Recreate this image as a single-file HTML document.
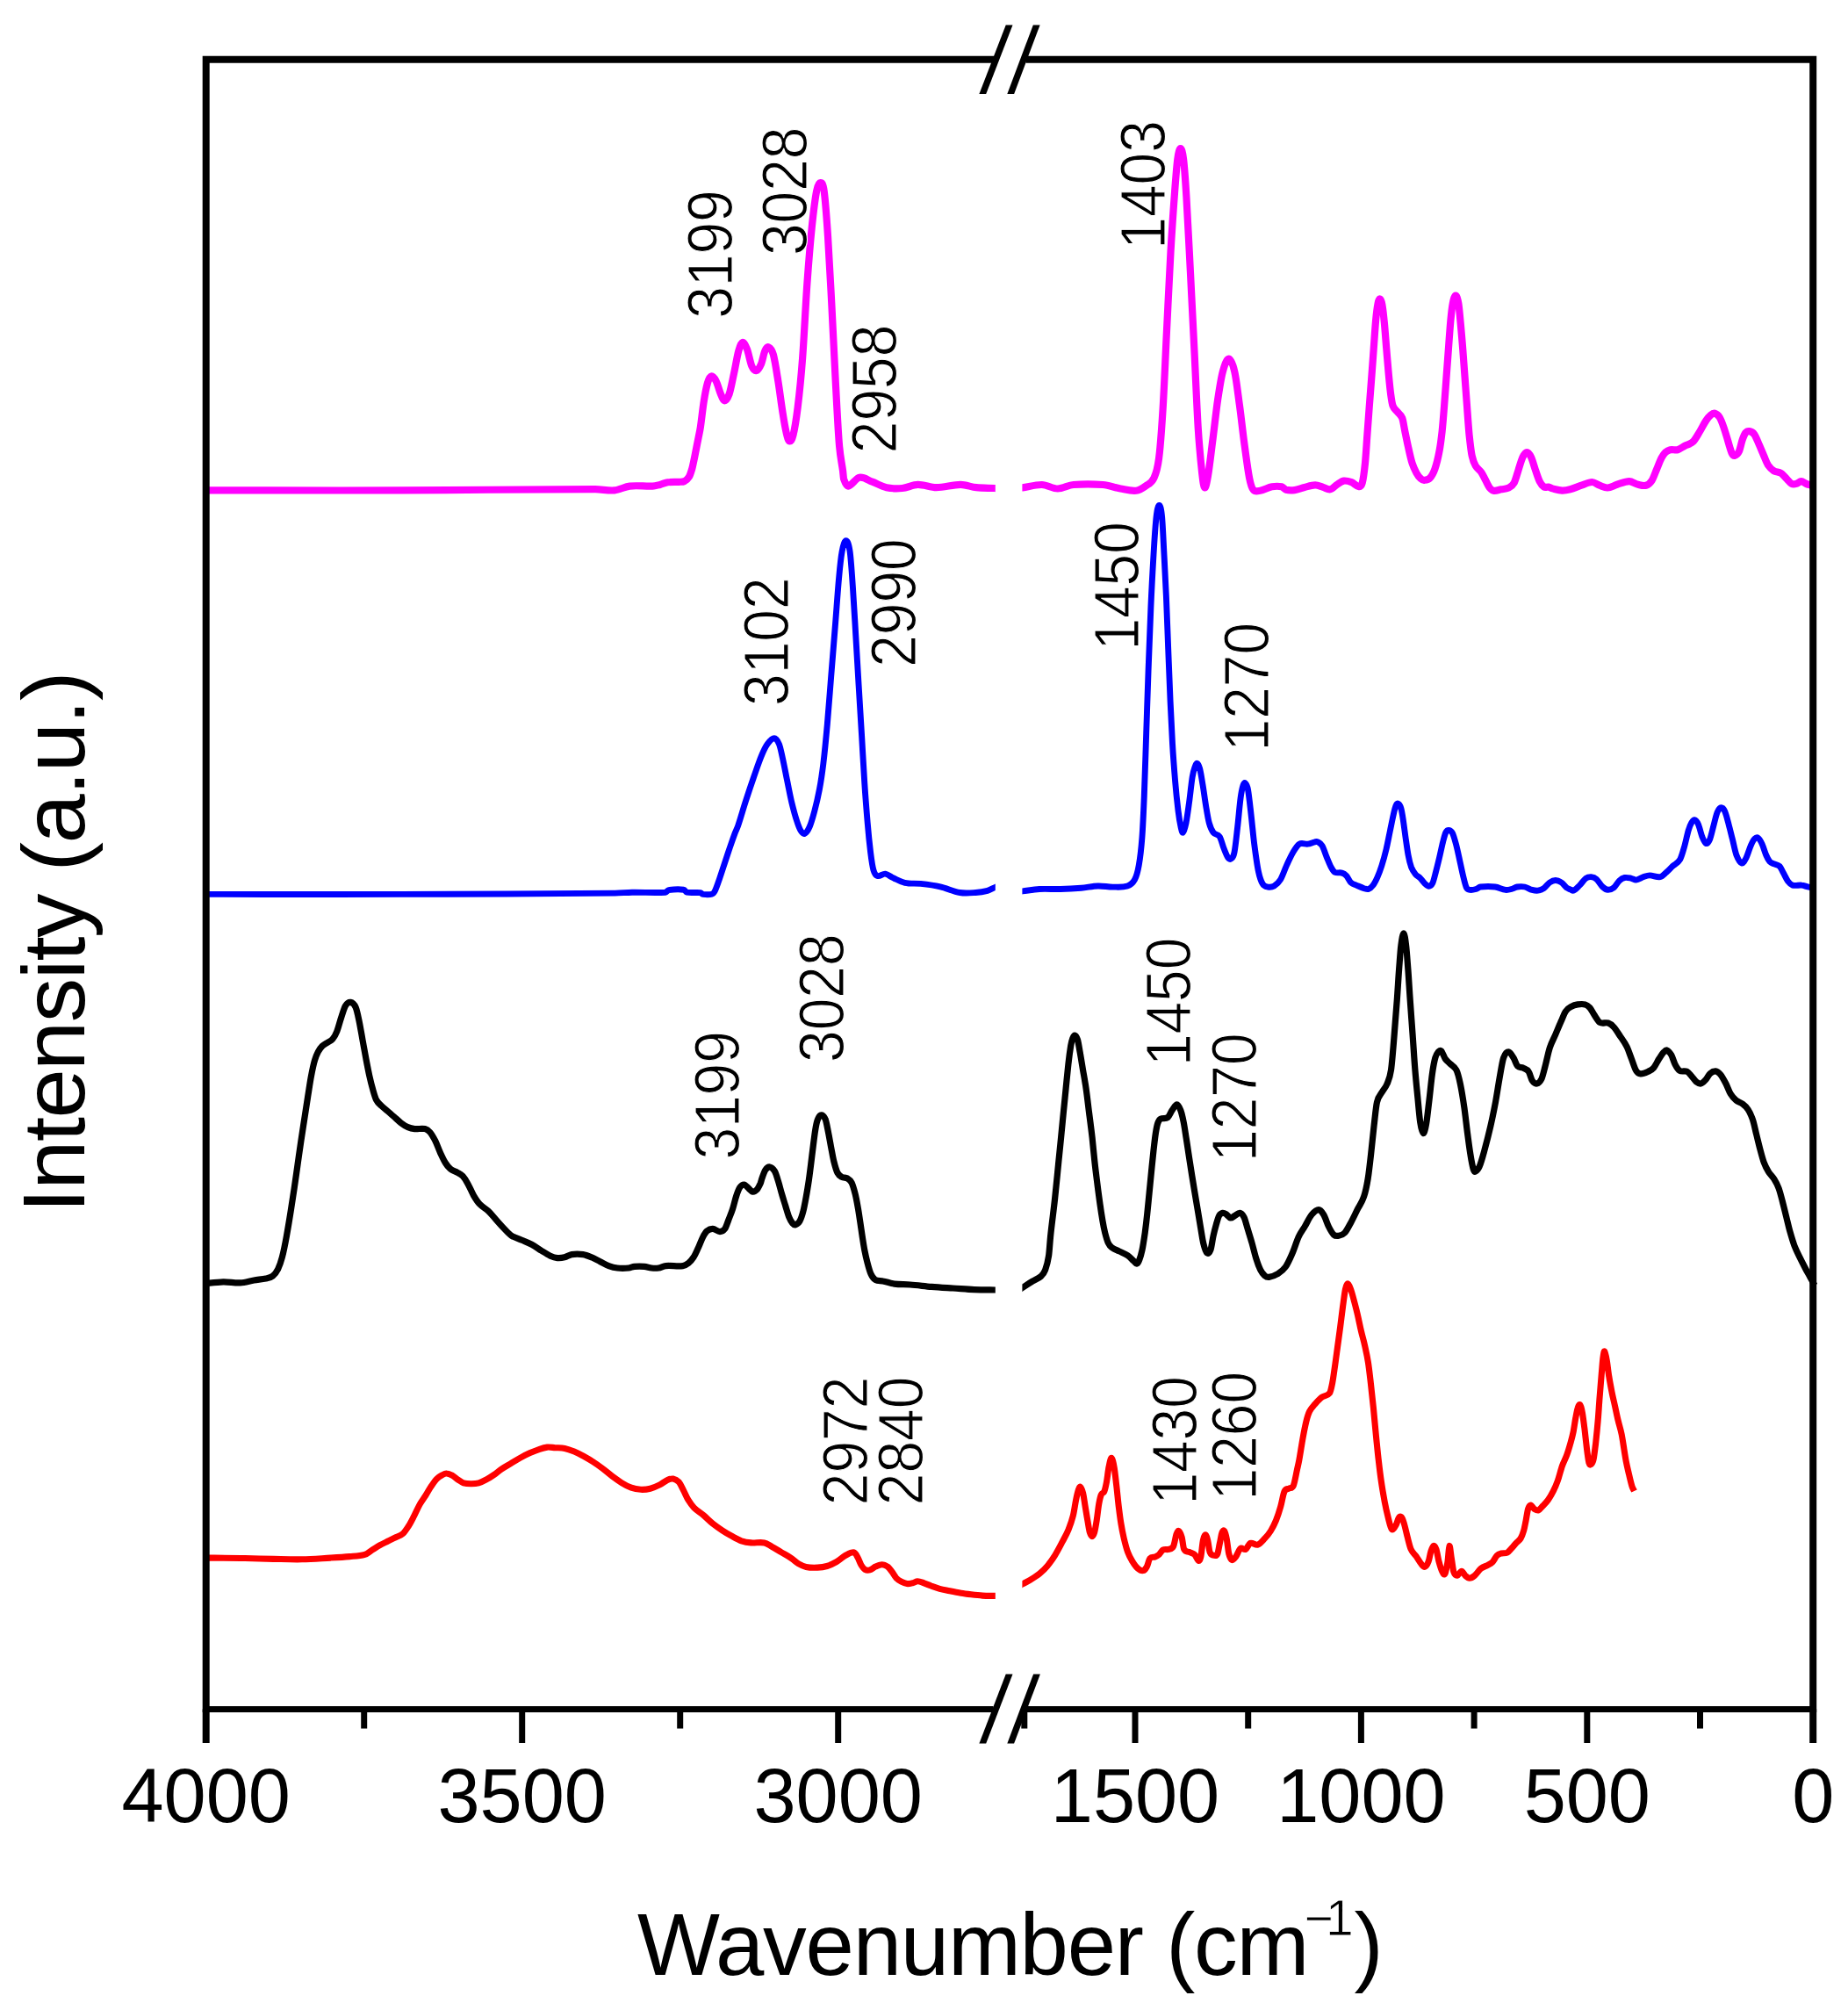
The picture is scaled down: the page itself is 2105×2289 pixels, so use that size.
<!DOCTYPE html>
<html><head><meta charset="utf-8"><title>Spectra</title>
<style>
html,body{margin:0;padding:0;background:#fff;}
svg{display:block;}
text{font-family:"Liberation Sans",sans-serif;fill:#000;}
</style></head>
<body>
<svg width="2105" height="2289" viewBox="0 0 2105 2289">
<rect width="2105" height="2289" fill="#fff"/>
<defs><clipPath id="cL"><rect x="228" y="0" width="905.8" height="2289"/></clipPath><clipPath id="cR"><rect x="1164.4" y="0" width="910" height="2289"/></clipPath></defs>
<g id="curves">
<path d="M232.0,558.4C307.1,558.4 382.2,558.6 457.3,558.4C530.9,558.2 604.5,557.1 678.1,557.1C685.4,557.1 692.7,559.1 700.0,558.4C705.8,557.9 711.5,554.2 717.3,553.6C726.0,552.6 734.6,554.0 743.3,553.6C746.2,553.5 749.0,552.6 751.9,551.9C754.8,551.2 757.7,549.7 760.6,549.3C764.9,548.7 769.3,549.1 773.6,548.8C775.6,548.7 777.7,549.0 779.7,548.0C781.4,547.1 783.1,546.0 784.8,543.2C786.0,541.3 787.1,537.7 788.3,533.7C789.1,531.1 789.8,527.0 790.6,523.3C791.5,519.2 792.3,514.6 793.2,510.3C794.1,506.0 794.9,501.7 795.8,497.3C796.5,493.9 797.1,491.4 797.8,486.9C799.1,478.1 800.4,465.5 801.7,457.4C803.1,448.5 804.6,440.8 806.0,436.0C807.4,431.2 808.9,428.8 810.3,428.5C812.1,428.1 813.8,430.5 815.6,433.9C817.4,437.3 819.2,444.7 821.0,448.9C822.4,452.2 823.9,456.3 825.3,456.3C827.1,456.3 828.8,454.0 830.6,448.9C832.4,443.7 834.2,433.6 836.0,425.3C837.8,417.2 839.5,406.1 841.3,399.6C842.7,394.3 844.2,390.3 845.6,390.0C847.4,389.6 849.1,393.1 850.9,397.5C852.7,402.0 854.5,412.7 856.3,416.8C858.1,420.9 859.8,422.5 861.6,422.1C863.4,421.7 865.2,418.8 867.0,414.6C868.4,411.3 869.9,402.8 871.3,399.6C872.7,396.4 874.2,394.8 875.6,395.4C877.4,396.2 879.1,397.5 880.9,403.9C882.7,410.4 884.5,422.7 886.3,433.9C888.1,444.9 889.8,459.3 891.6,470.3C893.0,479.2 894.5,487.7 895.9,493.8C897.0,498.4 898.0,502.1 899.1,502.4C900.5,502.8 902.0,501.7 903.4,495.9C905.2,488.8 906.9,478.3 908.7,463.8C910.5,449.0 912.3,432.0 914.1,408.2C915.9,384.9 917.6,347.3 919.4,322.6C921.2,297.4 923.0,276.0 924.8,258.4C926.6,241.1 928.3,227.0 930.1,217.7C931.5,210.2 933.0,208.1 934.4,208.1C935.8,208.1 937.3,207.5 938.7,217.7C940.1,227.9 941.6,247.8 943.0,269.1C944.4,289.9 945.8,317.6 947.2,344.0C948.6,371.1 950.1,402.9 951.5,429.6C952.9,456.4 954.4,486.7 955.8,504.5C957.2,522.3 958.7,525.5 960.1,536.6C960.4,539.2 960.8,544.5 961.1,545.5C962.7,550.2 964.4,553.8 966.0,553.6C970.3,553.2 974.7,544.6 979.0,543.8C983.9,542.9 988.7,546.9 993.6,548.7C999.0,550.7 1004.4,554.0 1009.8,555.2C1015.8,556.5 1021.7,556.6 1027.7,556.0C1033.6,555.5 1039.6,552.0 1045.5,551.9C1052.5,551.8 1059.6,555.2 1066.6,555.2C1075.8,555.2 1085.0,551.9 1094.2,551.9C1100.2,551.9 1106.1,554.6 1112.1,555.2C1119.1,555.9 1126.2,555.7 1133.2,556.0C1135.9,556.1 1138.5,556.2 1141.2,556.3" fill="none" stroke="#ff00ff" stroke-width="8.2" stroke-linejoin="round" stroke-linecap="butt" clip-path="url(#cL)"/>
<path d="M1156.5,556.6C1159.2,556.2 1161.8,555.8 1164.5,555.4C1172.0,554.3 1179.4,551.8 1186.9,552.0C1192.9,552.2 1198.8,556.5 1204.8,556.5C1210.8,556.5 1216.7,552.5 1222.7,552.0C1233.9,551.0 1245.1,551.1 1256.3,552.0C1263.0,552.6 1269.7,555.3 1276.4,556.5C1282.4,557.6 1288.3,559.4 1294.3,558.7C1298.0,558.3 1301.8,555.8 1305.5,553.1C1308.5,550.9 1311.5,550.6 1314.5,544.2C1316.4,540.2 1318.2,536.3 1320.1,521.8C1321.6,510.2 1323.1,490.3 1324.6,465.8C1326.1,441.8 1327.5,405.8 1329.0,376.3C1330.5,346.1 1332.0,312.8 1333.5,286.7C1335.0,260.6 1336.5,239.8 1338.0,219.6C1339.1,204.8 1340.2,189.8 1341.3,181.5C1342.4,173.0 1343.6,169.2 1344.7,169.2C1345.8,169.2 1347.0,172.2 1348.1,181.5C1349.2,190.5 1350.3,206.0 1351.4,224.0C1352.9,248.5 1354.4,280.0 1355.9,309.1C1357.4,338.2 1358.9,368.5 1360.4,398.7C1361.9,428.2 1363.3,465.0 1364.8,488.2C1366.3,512.0 1367.8,526.1 1369.3,539.7C1370.3,548.5 1371.2,555.1 1372.2,555.4C1373.5,555.8 1374.7,549.4 1376.0,541.9C1377.9,530.8 1379.7,513.9 1381.6,499.4C1383.5,484.8 1385.3,467.3 1387.2,454.6C1389.1,441.9 1390.9,430.2 1392.8,423.3C1395.1,414.9 1397.3,408.7 1399.6,408.7C1401.8,408.7 1404.1,413.7 1406.3,423.3C1408.2,431.3 1410.0,447.5 1411.9,461.3C1413.8,475.1 1415.6,492.3 1417.5,506.1C1419.4,519.9 1421.2,534.6 1423.1,544.2C1424.6,551.8 1426.0,555.9 1427.5,557.6C1430.1,560.7 1432.8,559.1 1435.4,558.7C1439.9,558.0 1444.3,555.1 1448.8,554.3C1452.5,553.6 1456.3,553.5 1460.0,554.3C1461.6,554.7 1463.3,557.4 1464.9,557.8C1468.1,558.6 1471.4,558.5 1474.6,558.1C1478.4,557.6 1482.2,555.8 1486.0,554.9C1490.0,553.9 1494.1,552.4 1498.1,552.4C1501.1,552.4 1504.1,554.0 1507.1,554.9C1509.8,555.7 1512.5,557.8 1515.2,557.3C1517.9,556.8 1520.6,553.3 1523.3,551.6C1525.7,550.1 1528.2,548.0 1530.6,547.6C1533.6,547.2 1536.5,548.1 1539.5,549.2C1542.2,550.2 1545.0,553.9 1547.7,554.1C1549.0,554.2 1550.4,554.9 1551.7,550.0C1552.8,546.0 1553.9,538.0 1555.0,527.3C1555.8,519.6 1556.6,505.6 1557.4,494.8C1558.2,484.0 1559.0,472.9 1559.8,462.3C1560.6,451.3 1561.5,440.9 1562.3,429.9C1563.1,419.3 1563.9,408.2 1564.7,397.4C1565.5,386.6 1566.3,373.4 1567.1,364.9C1567.9,356.1 1568.8,349.6 1569.6,345.5C1570.4,341.5 1571.2,340.3 1572.0,340.6C1572.8,340.9 1573.6,342.6 1574.4,347.1C1575.2,351.8 1576.1,359.6 1576.9,368.2C1577.7,376.4 1578.5,387.9 1579.3,397.4C1580.1,407.3 1581.0,417.8 1581.8,426.6C1582.6,435.1 1583.4,443.4 1584.2,449.4C1585.0,455.3 1585.8,460.2 1586.6,462.3C1588.2,466.6 1589.9,466.7 1591.5,468.8C1593.4,471.3 1595.3,471.2 1597.2,476.1C1598.3,478.8 1599.3,486.5 1600.4,491.6C1601.8,498.1 1603.1,505.0 1604.5,511.0C1605.8,516.9 1607.2,523.2 1608.5,527.3C1610.1,532.4 1611.8,535.6 1613.4,538.6C1615.0,541.6 1616.7,543.6 1618.3,545.1C1619.6,546.3 1621.0,546.9 1622.3,546.8C1624.5,546.6 1626.6,546.6 1628.8,544.3C1630.7,542.3 1632.6,539.2 1634.5,533.8C1636.1,529.2 1637.8,522.8 1639.4,514.3C1640.5,508.7 1641.5,501.3 1642.6,491.6C1643.4,484.0 1644.3,472.8 1645.1,462.3C1645.9,452.2 1646.7,440.7 1647.5,429.9C1648.3,419.1 1649.1,408.0 1649.9,397.4C1650.7,386.3 1651.6,373.7 1652.4,364.9C1653.2,356.4 1654.0,349.5 1654.8,345.5C1655.9,340.0 1657.0,336.5 1658.1,336.5C1659.2,336.5 1660.2,339.5 1661.3,345.5C1662.1,350.0 1662.9,359.7 1663.7,368.2C1664.5,377.0 1665.4,386.9 1666.2,397.4C1667.0,407.5 1667.8,419.1 1668.6,429.9C1669.4,440.7 1670.2,451.7 1671.0,462.3C1671.8,473.3 1672.7,486.5 1673.5,494.8C1674.6,505.4 1675.6,514.0 1676.7,519.2C1678.1,525.9 1679.4,528.1 1680.8,530.5C1683.0,534.3 1685.1,534.7 1687.3,537.8C1688.9,540.1 1690.5,543.8 1692.1,546.8C1693.7,549.8 1695.4,553.7 1697.0,555.7C1698.6,557.7 1700.3,558.7 1701.9,558.9C1704.6,559.2 1707.3,557.8 1710.0,557.3C1712.7,556.8 1715.4,557.1 1718.1,555.7C1720.3,554.6 1722.4,553.9 1724.6,550.0C1726.2,547.1 1727.9,540.3 1729.5,535.4C1731.1,530.5 1732.8,524.2 1734.4,520.8C1736.0,517.5 1737.6,515.1 1739.2,515.1C1740.8,515.1 1742.5,517.4 1744.1,520.8C1745.7,524.2 1747.4,530.8 1749.0,535.4C1750.6,540.0 1752.2,545.2 1753.8,548.4C1755.4,551.6 1757.1,553.5 1758.7,554.5C1760.4,555.6 1762.1,554.3 1763.8,554.6C1765.3,554.9 1766.9,556.0 1768.4,556.4C1772.1,557.3 1775.7,558.4 1779.4,558.6C1782.5,558.7 1785.5,558.1 1788.6,557.3C1792.9,556.2 1797.2,554.1 1801.5,552.7C1805.5,551.4 1809.5,549.0 1813.5,549.0C1816.3,549.0 1819.0,551.7 1821.8,552.7C1824.9,553.8 1827.9,555.6 1831.0,555.5C1834.7,555.3 1838.3,552.9 1842.0,551.8C1846.6,550.4 1851.2,548.1 1855.8,548.1C1859.2,548.1 1862.5,551.0 1865.9,551.8C1869.0,552.5 1872.0,553.6 1875.1,552.7C1877.3,552.1 1879.4,550.5 1881.6,547.2C1883.4,544.4 1885.3,538.6 1887.1,534.3C1888.9,530.0 1890.8,524.9 1892.6,521.4C1894.1,518.5 1895.7,516.4 1897.2,515.0C1899.0,513.3 1900.9,512.6 1902.7,512.2C1905.5,511.6 1908.2,513.0 1911.0,512.2C1913.8,511.4 1916.5,509.1 1919.3,507.6C1922.4,506.0 1925.4,505.9 1928.5,503.0C1930.9,500.7 1933.4,496.0 1935.8,492.0C1938.3,488.0 1940.7,482.8 1943.2,479.1C1945.0,476.4 1946.9,474.2 1948.7,472.7C1950.2,471.4 1951.8,470.4 1953.3,470.8C1955.1,471.3 1957.0,472.6 1958.8,475.4C1960.3,477.8 1961.9,482.2 1963.4,486.5C1964.9,490.8 1966.5,496.3 1968.0,501.2C1969.5,506.1 1971.1,512.7 1972.6,515.9C1973.8,518.5 1975.1,519.0 1976.3,518.7C1977.8,518.4 1979.4,517.3 1980.9,514.1C1982.1,511.5 1983.4,504.7 1984.6,501.2C1985.8,497.7 1987.1,494.4 1988.3,492.9C1989.8,491.0 1991.4,490.8 1992.9,491.1C1994.7,491.4 1996.6,492.2 1998.4,494.8C2000.2,497.4 2002.1,502.6 2003.9,506.7C2005.7,510.8 2007.6,515.4 2009.4,519.6C2010.9,523.1 2012.5,527.4 2014.0,529.7C2016.2,532.9 2018.3,534.8 2020.5,536.2C2023.2,537.9 2026.0,537.2 2028.7,538.9C2030.9,540.3 2033.0,543.2 2035.2,545.4C2037.0,547.2 2038.9,550.0 2040.7,550.9C2042.5,551.8 2044.4,551.4 2046.2,550.9C2048.0,550.4 2049.9,548.1 2051.7,548.1C2053.6,548.1 2055.4,550.1 2057.3,550.9C2059.1,551.7 2061.0,552.1 2062.8,552.7C2064.2,553.2 2065.6,553.6 2067.0,554.1" fill="none" stroke="#ff00ff" stroke-width="8.2" stroke-linejoin="round" stroke-linecap="butt" clip-path="url(#cR)"/>
<path d="M232.0,1018.4C307.1,1018.4 382.2,1018.6 457.3,1018.4C538.5,1018.2 619.6,1017.8 700.8,1017.1C707.2,1017.0 713.6,1016.3 720.0,1016.2C732.7,1016.0 745.4,1017.0 758.1,1016.2C759.3,1016.1 760.4,1013.8 761.6,1013.6C767.4,1012.8 773.1,1012.5 778.9,1013.2C780.0,1013.3 781.2,1016.0 782.3,1016.2C787.5,1017.1 792.7,1016.0 797.9,1016.6C798.8,1016.7 799.6,1018.3 800.5,1018.4C804.0,1018.8 807.4,1019.2 810.9,1018.2C812.1,1017.9 813.2,1016.9 814.4,1014.5C816.1,1011.0 817.9,1005.5 819.6,1000.6C821.0,996.5 822.5,991.9 823.9,987.6C825.3,983.3 826.8,978.9 828.2,974.6C829.7,970.2 831.1,965.8 832.6,961.6C834.0,957.5 835.5,953.3 836.9,949.5C838.2,946.1 839.5,943.9 840.8,940.0C843.7,931.5 846.5,921.3 849.4,912.4C852.4,903.1 855.4,894.1 858.4,885.5C861.4,877.0 864.3,868.1 867.3,860.9C869.5,855.5 871.8,850.6 874.0,847.5C876.6,843.9 879.3,840.7 881.9,840.7C883.8,840.7 885.6,842.9 887.5,847.5C889.0,851.1 890.4,858.8 891.9,865.4C893.4,872.2 894.9,880.5 896.4,887.8C898.3,896.9 900.1,906.8 902.0,914.6C903.9,922.4 905.7,929.0 907.6,934.8C909.1,939.5 910.6,943.6 912.1,946.0C913.6,948.4 915.1,950.0 916.6,949.3C918.5,948.5 920.3,945.8 922.2,941.5C924.1,937.2 925.9,930.7 927.8,923.6C929.7,916.5 931.5,909.0 933.4,899.0C934.9,891.1 936.3,882.0 937.8,869.8C939.3,857.3 940.8,841.9 942.3,825.1C943.8,808.3 945.3,787.8 946.8,769.1C948.3,750.4 949.8,732.0 951.3,713.1C952.8,694.7 954.2,673.2 955.7,657.2C956.8,644.8 958.0,634.1 959.1,628.1C960.6,620.2 962.1,615.7 963.6,615.7C965.1,615.7 966.6,618.0 968.1,628.1C969.2,635.5 970.3,652.6 971.4,668.4C972.5,684.7 973.7,705.4 974.8,724.3C975.9,742.7 977.0,761.9 978.1,780.3C979.2,799.2 980.4,817.4 981.5,836.3C982.6,854.7 983.7,875.7 984.8,892.2C985.9,909.2 987.1,923.9 988.2,937.0C989.3,950.1 990.5,961.5 991.6,970.6C992.7,979.4 993.8,986.9 994.9,990.7C996.4,995.9 997.9,997.0 999.4,997.5C1002.4,998.5 1005.4,994.8 1008.4,995.2C1011.4,995.6 1014.3,998.4 1017.3,999.7C1021.8,1001.7 1026.2,1004.3 1030.7,1005.3C1036.7,1006.6 1042.7,1005.7 1048.7,1006.4C1056.1,1007.2 1063.6,1008.1 1071.0,1009.8C1078.5,1011.5 1085.9,1015.3 1093.4,1016.5C1099.4,1017.5 1105.3,1016.9 1111.3,1016.5C1115.8,1016.2 1120.3,1015.5 1124.8,1014.3C1127.4,1013.6 1130.0,1012.0 1132.6,1010.9C1135.3,1009.7 1137.9,1008.6 1140.6,1007.4" fill="none" stroke="#0000ff" stroke-width="6.9" stroke-linejoin="round" stroke-linecap="butt" clip-path="url(#cL)"/>
<path d="M1156.8,1015.9C1159.5,1015.6 1162.1,1015.2 1164.8,1014.9C1171.2,1014.1 1177.5,1012.9 1183.9,1012.5C1191.9,1012.1 1199.8,1012.7 1207.8,1012.5C1215.7,1012.3 1223.7,1011.9 1231.6,1011.3C1238.0,1010.8 1244.3,1009.2 1250.7,1009.0C1256.3,1008.8 1261.9,1010.1 1267.5,1010.1C1273.1,1010.1 1278.6,1010.8 1284.2,1009.0C1287.0,1008.1 1289.7,1006.8 1292.5,1001.8C1294.1,998.9 1295.7,994.2 1297.3,985.1C1298.5,978.3 1299.7,969.8 1300.9,954.0C1301.7,943.5 1302.5,926.2 1303.3,906.3C1304.1,886.4 1304.9,858.5 1305.7,834.6C1306.5,810.7 1307.3,785.0 1308.1,763.0C1309.0,737.3 1310.0,712.1 1310.9,691.3C1311.9,668.3 1313.0,648.7 1314.0,631.6C1315.0,614.5 1316.1,597.6 1317.1,588.7C1318.2,578.9 1319.4,575.5 1320.5,575.5C1321.5,575.5 1322.6,578.2 1323.6,588.7C1324.4,596.9 1325.2,616.5 1326.0,631.6C1326.8,646.7 1327.6,661.1 1328.4,679.4C1329.2,696.9 1329.9,719.6 1330.7,739.1C1331.5,759.4 1332.3,780.9 1333.1,798.8C1333.9,816.7 1334.7,833.4 1335.5,846.6C1336.5,863.7 1337.6,877.5 1338.6,889.6C1339.7,902.9 1340.9,913.8 1342.0,923.0C1343.0,931.3 1344.1,937.4 1345.1,942.1C1345.9,945.8 1346.7,948.8 1347.5,948.1C1348.7,947.2 1349.8,943.0 1351.0,937.3C1352.2,931.4 1353.4,922.1 1354.6,913.4C1355.8,904.6 1357.0,892.1 1358.2,884.8C1359.2,878.5 1360.3,875.8 1361.3,872.8C1362.0,870.7 1362.8,869.0 1363.5,869.3C1364.5,869.8 1365.6,871.3 1366.6,875.2C1367.8,879.6 1368.9,887.2 1370.1,894.3C1371.3,901.6 1372.5,911.0 1373.7,918.2C1374.9,925.4 1376.1,933.0 1377.3,937.3C1378.9,943.0 1380.5,946.0 1382.1,948.1C1384.5,951.2 1386.9,949.2 1389.3,952.8C1390.9,955.2 1392.4,962.1 1394.0,966.0C1395.6,970.0 1397.2,974.4 1398.8,976.7C1400.0,978.4 1401.2,978.9 1402.4,977.9C1403.6,976.9 1404.8,976.7 1406.0,970.7C1407.2,964.7 1408.4,952.6 1409.6,942.1C1410.8,931.9 1411.9,917.4 1413.1,908.7C1414.1,901.5 1415.0,897.4 1416.0,894.3C1416.8,891.8 1417.6,891.2 1418.4,891.9C1419.4,892.8 1420.5,893.6 1421.5,899.1C1422.7,905.5 1423.9,917.5 1425.1,927.8C1426.3,938.2 1427.5,951.9 1428.7,961.2C1430.3,973.4 1431.8,984.7 1433.4,992.2C1435.0,999.8 1436.6,1003.9 1438.2,1006.6C1440.2,1009.9 1442.2,1009.7 1444.2,1010.1C1446.6,1010.5 1448.9,1010.4 1451.3,1009.0C1453.7,1007.6 1456.1,1005.8 1458.5,1001.8C1460.9,997.8 1463.3,990.3 1465.7,985.1C1468.1,980.0 1470.4,974.7 1472.8,970.7C1475.2,966.7 1477.6,962.6 1480.0,961.2C1483.2,959.4 1486.4,961.6 1489.6,961.2C1492.4,960.8 1495.1,959.4 1497.9,958.8C1498.9,958.6 1500.0,958.3 1501.0,958.8C1502.7,959.7 1504.3,960.2 1506.0,963.0C1507.7,965.8 1509.3,971.6 1511.0,975.6C1512.7,979.7 1514.4,984.2 1516.1,987.4C1517.5,990.0 1518.9,992.4 1520.3,993.2C1523.1,994.7 1525.8,993.2 1528.6,994.1C1530.3,994.6 1532.0,995.6 1533.7,997.4C1535.4,999.2 1537.0,1003.4 1538.7,1005.0C1540.9,1007.1 1543.2,1007.3 1545.4,1008.3C1548.2,1009.5 1551.0,1010.8 1553.8,1011.7C1555.5,1012.2 1557.1,1013.1 1558.8,1012.5C1560.5,1011.9 1562.2,1010.6 1563.9,1008.3C1565.6,1006.1 1567.2,1002.9 1568.9,999.1C1570.6,995.3 1572.2,991.0 1573.9,985.7C1575.6,980.3 1577.3,974.3 1579.0,967.2C1580.4,961.4 1581.8,953.8 1583.2,947.1C1584.6,940.4 1586.0,933.1 1587.4,927.0C1588.2,923.3 1589.1,919.7 1589.9,917.7C1590.7,915.7 1591.6,914.8 1592.4,915.2C1593.5,915.7 1594.7,916.7 1595.8,920.3C1596.6,922.9 1597.5,928.4 1598.3,933.7C1599.1,939.0 1600.0,946.3 1600.8,952.1C1601.9,959.7 1603.0,968.1 1604.1,973.9C1605.2,979.9 1606.4,984.4 1607.5,987.4C1609.2,991.7 1610.8,993.7 1612.5,995.8C1614.2,997.9 1615.9,998.2 1617.6,999.9C1619.3,1001.6 1620.9,1004.2 1622.6,1005.8C1624.3,1007.3 1625.9,1009.2 1627.6,1009.2C1629.0,1009.2 1630.4,1008.6 1631.8,1005.8C1632.9,1003.5 1634.1,998.4 1635.2,994.1C1636.6,988.9 1638.0,983.2 1639.4,977.3C1640.8,971.4 1642.2,964.3 1643.6,958.8C1644.7,954.5 1645.8,950.1 1646.9,947.9C1648.0,945.6 1649.2,945.3 1650.3,945.4C1651.7,945.6 1653.1,946.0 1654.5,948.8C1655.9,951.6 1657.3,956.9 1658.7,962.2C1660.1,967.5 1661.5,974.5 1662.9,980.7C1664.3,986.8 1665.6,993.6 1667.0,999.1C1668.1,1003.7 1669.3,1008.8 1670.4,1010.9C1671.8,1013.5 1673.2,1013.2 1674.6,1013.4C1676.8,1013.7 1679.1,1013.1 1681.3,1012.5C1683.0,1012.0 1684.6,1010.2 1686.3,1010.0C1691.9,1009.4 1697.5,1009.3 1703.1,1010.0C1707.0,1010.5 1711.0,1012.9 1714.9,1013.4C1717.1,1013.7 1719.4,1013.1 1721.6,1012.5C1723.8,1011.9 1726.1,1010.4 1728.3,1010.0C1731.1,1009.5 1733.9,1009.4 1736.7,1010.0C1739.5,1010.6 1742.3,1012.6 1745.1,1013.4C1747.3,1014.0 1749.6,1014.5 1751.8,1014.2C1754.0,1013.9 1756.3,1013.2 1758.5,1011.7C1760.7,1010.2 1763.0,1006.5 1765.2,1005.0C1767.4,1003.5 1769.7,1002.5 1771.9,1002.5C1774.1,1002.5 1776.4,1003.5 1778.6,1005.0C1780.6,1006.3 1782.5,1009.4 1784.5,1010.9C1785.9,1012.0 1787.3,1012.3 1788.7,1012.9C1790.0,1013.4 1791.2,1014.8 1792.5,1014.2C1794.8,1013.2 1797.1,1010.4 1799.4,1008.1C1801.7,1005.8 1804.1,1002.0 1806.4,1000.3C1808.4,998.8 1810.4,998.5 1812.4,998.6C1814.4,998.8 1816.5,999.4 1818.5,1001.2C1820.8,1003.2 1823.1,1007.8 1825.4,1009.9C1827.4,1011.8 1829.5,1013.2 1831.5,1013.3C1833.8,1013.4 1836.1,1012.5 1838.4,1010.7C1840.4,1009.1 1842.5,1004.8 1844.5,1002.9C1846.5,1001.0 1848.5,999.9 1850.5,999.5C1853.1,999.0 1855.7,999.8 1858.3,1000.3C1860.0,1000.6 1861.8,1002.3 1863.5,1002.1C1866.4,1001.7 1869.3,999.6 1872.2,998.6C1874.5,997.8 1876.8,996.9 1879.1,996.9C1883.1,996.9 1887.2,999.3 1891.2,998.6C1893.5,998.2 1895.8,995.4 1898.1,993.4C1900.4,991.4 1902.8,988.7 1905.1,986.5C1908.0,983.8 1910.8,983.6 1913.7,978.7C1915.4,975.8 1917.2,969.1 1918.9,963.1C1920.3,958.1 1921.8,950.6 1923.2,945.8C1924.4,941.9 1925.5,939.1 1926.7,937.1C1927.9,935.1 1929.0,933.4 1930.2,933.7C1931.6,934.0 1933.1,935.7 1934.5,938.9C1935.9,942.1 1937.4,949.1 1938.8,952.7C1940.3,956.3 1941.7,959.9 1943.2,960.5C1944.6,961.1 1946.1,959.5 1947.5,956.2C1948.9,952.9 1950.4,945.8 1951.8,940.6C1953.2,935.4 1954.7,928.4 1956.1,925.0C1957.6,921.5 1959.0,919.9 1960.5,919.8C1961.9,919.7 1963.4,921.0 1964.8,924.2C1966.2,927.4 1967.7,933.6 1969.1,938.9C1970.6,944.3 1972.0,950.4 1973.5,956.2C1974.9,961.9 1976.4,969.8 1977.8,973.5C1979.8,978.7 1981.9,982.4 1983.9,983.0C1985.6,983.5 1987.3,980.3 1989.0,977.0C1990.7,973.7 1992.5,967.0 1994.2,963.1C1995.7,959.8 1997.1,956.7 1998.6,955.3C2000.0,953.9 2001.5,953.5 2002.9,954.5C2004.3,955.5 2005.8,958.3 2007.2,961.4C2008.7,964.6 2010.1,970.1 2011.6,973.5C2013.0,976.8 2014.5,979.7 2015.9,981.3C2017.6,983.2 2019.4,983.1 2021.1,983.9C2023.1,984.8 2025.1,984.5 2027.1,986.5C2028.6,988.0 2030.0,991.7 2031.5,994.3C2033.2,997.4 2035.0,1001.5 2036.7,1003.8C2038.4,1006.1 2040.2,1007.6 2041.9,1008.1C2045.4,1009.1 2048.8,1007.7 2052.3,1008.1C2054.6,1008.3 2056.9,1009.4 2059.2,1009.9C2060.6,1010.2 2062.1,1010.4 2063.5,1010.7C2064.7,1010.9 2065.8,1011.1 2067.0,1011.4" fill="none" stroke="#0000ff" stroke-width="6.9" stroke-linejoin="round" stroke-linecap="butt" clip-path="url(#cR)"/>
<path d="M232.0,1461.9C239.4,1461.2 246.8,1460.1 254.2,1459.9C260.7,1459.7 267.2,1461.3 273.7,1460.9C278.9,1460.6 284.1,1458.9 289.3,1458.0C293.8,1457.2 298.4,1457.0 302.9,1456.0C305.5,1455.4 308.1,1455.1 310.7,1453.1C312.7,1451.6 314.6,1449.2 316.6,1445.3C318.2,1442.1 319.8,1437.8 321.4,1431.7C323.0,1425.5 324.7,1417.1 326.3,1408.3C327.9,1399.5 329.6,1389.2 331.2,1379.1C332.5,1371.0 333.8,1362.6 335.1,1353.8C336.4,1345.0 337.7,1335.6 339.0,1326.5C340.3,1317.4 341.6,1308.0 342.9,1299.2C344.2,1290.4 345.5,1282.3 346.8,1273.9C348.1,1265.5 349.4,1256.8 350.7,1248.6C352.0,1240.6 353.2,1231.9 354.5,1225.2C355.8,1218.3 357.1,1212.2 358.4,1207.7C359.7,1203.2 361.0,1200.4 362.3,1197.9C363.9,1194.8 365.6,1192.7 367.2,1191.1C369.2,1189.2 371.1,1188.5 373.1,1187.2C375.0,1185.9 377.0,1185.6 378.9,1183.3C380.5,1181.4 382.2,1178.6 383.8,1174.5C385.4,1170.5 387.0,1163.8 388.6,1159.0C390.2,1154.1 391.9,1148.0 393.5,1145.3C395.5,1142.1 397.4,1141.1 399.4,1141.4C401.3,1141.7 403.3,1143.0 405.2,1147.3C406.5,1150.2 407.8,1156.7 409.1,1162.9C410.4,1169.1 411.7,1177.2 413.0,1184.3C414.3,1191.4 415.6,1198.9 416.9,1205.7C418.2,1212.5 419.5,1219.3 420.8,1225.2C422.1,1231.0 423.4,1236.2 424.7,1240.8C426.0,1245.3 427.3,1250.0 428.6,1252.5C430.5,1256.2 432.5,1257.4 434.4,1259.3C436.7,1261.6 438.9,1263.1 441.2,1265.1C443.8,1267.3 446.4,1269.6 449.0,1271.9C451.6,1274.2 454.2,1276.8 456.8,1278.8C459.4,1280.8 462.0,1282.5 464.6,1283.6C467.2,1284.7 469.8,1285.3 472.4,1285.6C476.3,1286.0 480.2,1284.7 484.1,1285.6C486.0,1286.0 488.0,1287.3 489.9,1289.5C491.9,1291.8 493.8,1295.3 495.8,1299.2C497.7,1303.1 499.7,1308.7 501.6,1312.9C503.6,1317.2 505.5,1321.4 507.5,1324.5C509.4,1327.6 511.4,1329.9 513.3,1331.4C515.9,1333.5 518.5,1333.8 521.1,1335.3C523.1,1336.4 525.0,1337.1 527.0,1339.2C528.9,1341.3 530.9,1344.5 532.8,1347.9C535.1,1351.9 537.3,1357.7 539.6,1361.6C541.9,1365.5 544.1,1368.9 546.4,1371.3C549.7,1374.7 552.9,1376.0 556.2,1379.1C559.1,1381.8 562.0,1385.6 564.9,1388.8C567.8,1392.1 570.8,1395.5 573.7,1398.6C576.3,1401.4 578.9,1404.1 581.5,1406.4C582.5,1407.3 583.6,1407.8 584.6,1408.3C587.9,1409.8 591.1,1410.9 594.4,1412.3C598.2,1413.9 601.9,1415.2 605.7,1417.2C609.5,1419.2 613.3,1422.2 617.1,1424.5C620.3,1426.5 623.6,1428.7 626.8,1430.2C629.5,1431.4 632.2,1432.3 634.9,1432.6C637.6,1432.9 640.4,1432.5 643.1,1431.8C645.8,1431.1 648.5,1429.0 651.2,1428.6C655.5,1427.9 659.9,1428.0 664.2,1428.6C667.4,1429.1 670.7,1430.5 673.9,1431.8C677.1,1433.2 680.4,1435.1 683.6,1436.7C686.9,1438.3 690.1,1440.4 693.4,1441.6C696.6,1442.8 699.9,1443.7 703.1,1444.0C707.4,1444.5 711.8,1444.4 716.1,1444.0C718.3,1443.8 720.4,1442.6 722.6,1442.4C726.4,1442.1 730.2,1442.1 734.0,1442.4C736.7,1442.6 739.4,1443.7 742.1,1444.0C744.8,1444.3 747.5,1444.4 750.2,1444.0C752.9,1443.6 755.6,1441.8 758.3,1441.6C764.8,1441.0 771.3,1442.4 777.8,1441.6C780.0,1441.3 782.1,1440.0 784.3,1438.3C786.2,1436.8 788.1,1434.8 790.0,1431.8C791.9,1428.9 793.7,1424.5 795.6,1420.5C797.2,1417.0 798.9,1412.2 800.5,1409.1C802.1,1406.0 803.8,1403.2 805.4,1401.8C807.6,1400.0 809.7,1399.3 811.9,1399.4C814.6,1399.5 817.3,1402.6 820.0,1402.6C821.9,1402.6 823.8,1401.9 825.7,1399.4C827.0,1397.6 828.4,1393.0 829.7,1389.6C831.3,1385.4 833.0,1381.6 834.6,1376.6C836.0,1372.4 837.3,1366.1 838.7,1362.0C840.0,1358.0 841.4,1354.2 842.7,1352.3C844.3,1349.9 846.0,1348.9 847.6,1349.0C849.2,1349.1 850.9,1351.7 852.5,1353.1C854.1,1354.4 855.7,1356.8 857.3,1357.1C858.9,1357.4 860.6,1356.5 862.2,1354.7C863.6,1353.2 864.9,1350.4 866.3,1347.4C866.8,1346.2 867.4,1343.4 867.9,1342.0C869.2,1338.4 870.6,1334.2 871.9,1332.3C873.5,1329.9 875.2,1328.8 876.8,1329.0C878.7,1329.3 880.6,1330.7 882.5,1333.9C883.8,1336.1 885.2,1341.0 886.5,1345.3C887.9,1349.7 889.2,1355.2 890.6,1359.9C891.9,1364.4 893.3,1368.6 894.6,1372.9C896.0,1377.3 897.3,1382.4 898.7,1385.8C900.1,1389.2 901.4,1391.4 902.8,1393.1C903.9,1394.4 904.9,1395.1 906.0,1394.8C907.6,1394.3 909.3,1393.5 910.9,1390.7C912.2,1388.4 913.6,1384.4 914.9,1379.4C916.0,1375.2 917.1,1369.2 918.2,1363.1C919.3,1357.2 920.3,1350.9 921.4,1343.6C922.2,1337.9 923.1,1330.8 923.9,1324.2C924.7,1317.8 925.5,1310.9 926.3,1304.7C927.1,1298.5 927.9,1291.6 928.7,1286.8C929.5,1281.8 930.4,1277.7 931.2,1275.5C932.5,1272.0 933.9,1269.9 935.2,1269.8C936.8,1269.6 938.5,1270.8 940.1,1274.6C941.2,1277.0 942.2,1283.2 943.3,1288.4C944.4,1293.8 945.5,1300.5 946.6,1306.3C947.7,1311.9 948.7,1318.2 949.8,1322.5C951.2,1328.0 952.5,1332.8 953.9,1335.5C955.5,1338.7 957.2,1339.5 958.8,1340.4C961.0,1341.6 963.1,1340.8 965.3,1342.0C966.9,1342.9 968.5,1343.7 970.1,1346.9C971.5,1349.6 972.8,1354.4 974.2,1359.9C975.3,1364.2 976.3,1370.0 977.4,1376.1C978.2,1380.8 979.1,1386.8 979.9,1392.3C980.7,1397.6 981.5,1403.5 982.3,1408.6C983.1,1413.8 983.9,1419.1 984.7,1423.2C985.8,1428.8 986.9,1433.6 988.0,1437.8C989.3,1442.8 990.7,1447.9 992.0,1450.8C993.6,1454.4 995.3,1456.3 996.9,1457.3C999.9,1459.0 1002.8,1458.2 1005.8,1458.9C1010.1,1459.8 1014.5,1461.5 1018.8,1462.1C1024.8,1462.9 1030.7,1462.5 1036.7,1463.0C1044.8,1463.6 1052.9,1464.7 1061.0,1465.4C1069.1,1466.1 1077.3,1466.5 1085.4,1467.0C1093.5,1467.5 1101.6,1468.3 1109.7,1468.6C1117.6,1468.9 1125.4,1468.9 1133.3,1469.0C1136.0,1469.0 1138.6,1469.1 1141.3,1469.1" fill="none" stroke="#000000" stroke-width="7.2" stroke-linejoin="round" stroke-linecap="butt" clip-path="url(#cL)"/>
<path d="M1156.6,1471.6C1159.3,1469.9 1161.9,1468.2 1164.6,1466.5C1168.4,1464.1 1172.2,1461.5 1176.0,1459.2C1179.2,1457.2 1182.5,1456.4 1185.7,1453.5C1187.3,1452.0 1189.0,1450.5 1190.6,1446.2C1191.9,1442.7 1193.3,1438.6 1194.6,1430.0C1195.3,1425.5 1196.0,1413.3 1196.7,1406.8C1198.3,1391.6 1200.0,1380.0 1201.6,1365.0C1203.0,1352.1 1204.4,1337.1 1205.8,1323.2C1206.7,1313.9 1207.7,1304.9 1208.6,1295.4C1209.5,1286.3 1210.4,1276.6 1211.3,1267.5C1212.2,1258.0 1213.2,1249.0 1214.1,1239.7C1215.0,1230.4 1216.0,1219.9 1216.9,1211.8C1217.8,1203.7 1218.8,1196.5 1219.7,1190.9C1220.4,1186.7 1221.1,1184.3 1221.8,1182.5C1222.6,1180.4 1223.5,1178.9 1224.3,1179.1C1225.3,1179.4 1226.4,1180.6 1227.4,1183.9C1228.3,1186.8 1229.2,1192.8 1230.1,1197.9C1231.3,1204.5 1232.4,1211.8 1233.6,1218.8C1234.8,1225.8 1235.9,1231.6 1237.1,1239.7C1238.3,1247.8 1239.4,1258.2 1240.6,1267.5C1241.8,1276.8 1242.9,1285.1 1244.1,1295.4C1245.0,1303.7 1246.0,1314.8 1246.9,1323.2C1248.0,1333.4 1249.2,1342.2 1250.3,1351.1C1251.2,1358.4 1252.2,1365.5 1253.1,1372.0C1254.0,1378.5 1255.0,1384.8 1255.9,1390.1C1256.8,1395.4 1257.8,1400.3 1258.7,1404.0C1259.9,1408.6 1261.0,1412.7 1262.2,1415.2C1263.6,1418.2 1265.0,1419.6 1266.4,1420.7C1269.2,1422.8 1271.9,1423.5 1274.7,1424.9C1278.0,1426.5 1281.2,1427.6 1284.5,1429.8C1286.8,1431.3 1289.1,1434.0 1291.4,1436.1C1292.6,1437.1 1293.7,1439.3 1294.9,1439.1C1295.8,1438.9 1296.8,1437.3 1297.7,1434.9C1298.8,1432.1 1299.9,1428.7 1301.0,1423.5C1302.1,1418.4 1303.1,1411.6 1304.2,1404.0C1305.0,1398.1 1305.9,1390.6 1306.7,1382.9C1307.5,1375.5 1308.3,1366.7 1309.1,1358.6C1309.9,1350.5 1310.7,1342.2 1311.5,1334.2C1312.3,1325.9 1313.2,1317.3 1314.0,1309.9C1314.8,1302.7 1315.6,1295.6 1316.4,1290.4C1317.2,1285.3 1318.0,1281.3 1318.8,1279.0C1319.9,1275.9 1321.0,1274.8 1322.1,1274.2C1324.8,1272.7 1327.5,1274.5 1330.2,1272.5C1331.8,1271.3 1333.5,1266.7 1335.1,1264.4C1337.0,1261.8 1338.8,1257.9 1340.7,1257.9C1342.1,1257.9 1343.4,1260.8 1344.8,1264.4C1345.9,1267.3 1347.0,1271.9 1348.1,1277.4C1349.2,1282.7 1350.2,1290.1 1351.3,1296.9C1352.4,1303.7 1353.4,1311.1 1354.5,1318.0C1355.6,1325.1 1356.7,1332.2 1357.8,1339.1C1358.9,1345.8 1359.9,1352.2 1361.0,1358.6C1362.1,1365.2 1363.2,1371.5 1364.3,1378.1C1365.4,1384.5 1366.4,1391.2 1367.5,1397.5C1368.6,1403.9 1369.7,1411.8 1370.8,1416.2C1372.1,1421.6 1373.5,1425.6 1374.8,1426.8C1376.2,1428.0 1377.5,1427.2 1378.9,1423.5C1380.0,1420.7 1381.0,1412.1 1382.1,1407.3C1383.2,1402.4 1384.3,1398.2 1385.4,1394.3C1386.5,1390.6 1387.5,1386.4 1388.6,1384.5C1390.0,1382.1 1391.3,1381.6 1392.7,1381.3C1394.1,1381.0 1395.4,1382.0 1396.8,1382.9C1398.4,1383.9 1400.0,1386.7 1401.6,1387.0C1403.2,1387.3 1404.9,1385.4 1406.5,1384.5C1408.4,1383.5 1410.3,1381.0 1412.2,1381.3C1413.8,1381.6 1415.4,1383.0 1417.0,1386.2C1418.4,1388.9 1419.7,1394.8 1421.1,1399.2C1422.7,1404.5 1424.4,1409.7 1426.0,1415.4C1427.6,1421.0 1429.2,1428.1 1430.8,1433.2C1432.4,1438.4 1434.1,1443.0 1435.7,1446.2C1437.3,1449.5 1439.0,1451.3 1440.6,1452.7C1442.2,1454.1 1443.9,1454.6 1445.5,1454.4C1448.7,1454.0 1452.0,1452.8 1455.2,1450.8C1458.2,1448.9 1461.3,1447.1 1464.3,1442.8C1467.0,1439.1 1469.6,1432.9 1472.3,1426.8C1474.6,1421.5 1476.9,1413.5 1479.2,1408.5C1481.5,1403.5 1483.8,1400.9 1486.1,1397.0C1488.8,1392.5 1491.4,1386.5 1494.1,1383.3C1496.8,1380.1 1499.4,1377.6 1502.1,1377.6C1504.0,1377.6 1505.9,1380.1 1507.8,1383.3C1509.7,1386.5 1511.6,1393.2 1513.5,1397.0C1515.4,1400.8 1517.4,1404.5 1519.3,1406.2C1521.2,1407.9 1523.1,1407.6 1525.0,1407.3C1527.3,1406.9 1529.5,1406.4 1531.8,1403.9C1534.1,1401.4 1536.4,1396.6 1538.7,1392.4C1541.4,1387.5 1544.0,1381.7 1546.7,1376.4C1549.0,1371.8 1551.3,1369.6 1553.6,1362.7C1555.1,1358.1 1556.7,1351.3 1558.2,1342.1C1559.3,1335.3 1560.5,1324.5 1561.6,1314.6C1562.7,1304.7 1563.9,1292.4 1565.0,1282.6C1566.2,1272.5 1567.3,1260.0 1568.5,1255.1C1570.4,1247.1 1572.3,1247.1 1574.2,1243.7C1576.1,1240.3 1578.0,1239.1 1579.9,1234.5C1581.4,1230.7 1583.0,1228.6 1584.5,1218.5C1585.6,1211.0 1586.8,1195.3 1587.9,1181.9C1589.0,1168.6 1590.2,1153.9 1591.3,1138.4C1592.1,1127.9 1592.8,1114.4 1593.6,1104.1C1594.4,1093.8 1595.1,1082.6 1595.9,1076.6C1596.9,1068.8 1597.9,1062.9 1598.9,1062.9C1599.8,1062.9 1600.7,1069.2 1601.6,1076.6C1602.4,1082.9 1603.1,1093.8 1603.9,1104.1C1604.7,1114.4 1605.4,1127.4 1606.2,1138.4C1607.1,1151.8 1608.1,1164.2 1609.0,1177.3C1610.0,1190.9 1610.9,1206.5 1611.9,1218.5C1612.9,1230.9 1613.9,1240.2 1614.9,1250.5C1615.8,1260.1 1616.8,1272.0 1617.7,1278.0C1618.8,1285.3 1620.0,1290.2 1621.1,1290.6C1622.2,1291.0 1623.4,1286.5 1624.5,1280.3C1625.7,1273.9 1626.8,1262.5 1628.0,1252.8C1629.1,1243.4 1630.3,1231.1 1631.4,1223.1C1632.5,1215.1 1633.7,1208.9 1634.8,1204.8C1636.0,1200.5 1637.1,1199.3 1638.3,1197.9C1639.4,1196.6 1640.6,1195.7 1641.7,1196.8C1643.2,1198.3 1644.8,1203.7 1646.3,1205.9C1648.2,1208.6 1650.1,1209.7 1652.0,1211.6C1654.3,1213.9 1656.6,1213.9 1658.9,1218.5C1660.4,1221.5 1661.9,1227.3 1663.4,1234.5C1664.9,1241.8 1666.5,1251.5 1668.0,1262.0C1669.1,1269.8 1670.3,1280.9 1671.4,1289.5C1672.6,1298.4 1673.7,1307.4 1674.9,1314.6C1676.0,1321.5 1677.2,1327.9 1678.3,1331.8C1679.1,1334.4 1679.8,1334.5 1680.6,1334.1C1682.1,1333.3 1683.7,1332.0 1685.2,1328.4C1687.1,1324.0 1689.0,1316.9 1690.9,1310.0C1693.2,1301.6 1695.5,1292.6 1697.8,1282.6C1699.7,1274.3 1701.6,1265.2 1703.5,1255.1C1705.0,1246.9 1706.6,1236.2 1708.1,1227.7C1709.6,1219.4 1711.1,1209.1 1712.6,1204.8C1714.5,1199.2 1716.5,1197.9 1718.4,1197.9C1720.3,1197.9 1722.2,1201.8 1724.1,1204.8C1725.6,1207.1 1727.0,1212.5 1728.5,1214.0C1730.6,1216.2 1732.7,1215.1 1734.8,1216.1C1736.9,1217.2 1739.1,1217.3 1741.2,1220.3C1742.6,1222.2 1744.0,1228.8 1745.4,1230.8C1747.1,1233.3 1748.9,1234.3 1750.6,1234.0C1752.4,1233.6 1754.1,1232.4 1755.9,1228.7C1757.3,1225.8 1758.7,1219.3 1760.1,1214.0C1761.9,1207.3 1763.6,1198.3 1765.4,1192.9C1767.5,1186.4 1769.7,1183.1 1771.8,1178.1C1773.9,1173.2 1776.0,1168.1 1778.1,1163.3C1779.9,1159.3 1781.6,1154.3 1783.4,1151.7C1785.5,1148.6 1787.6,1147.6 1789.7,1146.4C1792.2,1145.0 1794.6,1144.3 1797.1,1143.9C1799.9,1143.5 1802.7,1143.2 1805.5,1143.9C1807.3,1144.4 1809.0,1145.5 1810.8,1147.5C1812.6,1149.5 1814.3,1153.3 1816.1,1155.9C1818.2,1159.0 1820.3,1163.2 1822.4,1164.4C1825.6,1166.2 1828.7,1164.0 1831.9,1165.0C1834.0,1165.7 1836.1,1167.3 1838.2,1169.6C1840.7,1172.3 1843.1,1176.5 1845.6,1180.2C1848.1,1183.9 1850.5,1186.9 1853.0,1191.8C1854.8,1195.3 1856.5,1200.9 1858.3,1205.5C1860.1,1210.1 1861.8,1216.3 1863.6,1219.2C1865.3,1222.1 1867.1,1222.7 1868.8,1222.8C1871.6,1223.0 1874.5,1221.6 1877.3,1220.3C1879.4,1219.3 1881.5,1218.6 1883.6,1216.1C1885.7,1213.6 1887.8,1208.8 1889.9,1205.5C1891.7,1202.8 1893.4,1200.0 1895.2,1198.1C1896.4,1196.8 1897.6,1195.5 1898.8,1196.0C1900.4,1196.6 1902.1,1198.5 1903.7,1201.3C1905.1,1203.7 1906.5,1209.1 1907.9,1211.8C1909.6,1215.1 1911.4,1218.1 1913.1,1219.2C1915.9,1221.0 1918.8,1219.0 1921.6,1220.3C1923.4,1221.1 1925.1,1223.6 1926.9,1225.6C1928.6,1227.5 1930.4,1230.5 1932.1,1231.9C1933.9,1233.3 1935.6,1234.4 1937.4,1234.0C1939.2,1233.7 1940.9,1231.7 1942.7,1229.8C1944.5,1227.9 1946.2,1223.9 1948.0,1222.4C1950.1,1220.6 1952.2,1219.7 1954.3,1219.9C1956.1,1220.1 1957.8,1221.4 1959.6,1223.5C1961.7,1226.1 1963.8,1230.0 1965.9,1234.0C1967.7,1237.4 1969.4,1242.7 1971.2,1245.6C1973.3,1249.0 1975.4,1251.2 1977.5,1253.0C1980.0,1255.1 1982.4,1255.3 1984.9,1257.2C1987.0,1258.8 1989.1,1260.3 1991.2,1263.6C1993.0,1266.3 1994.7,1269.9 1996.5,1275.2C1997.9,1279.4 1999.3,1286.4 2000.7,1292.0C2002.1,1297.6 2003.5,1303.7 2004.9,1308.9C2006.3,1314.2 2007.8,1319.9 2009.2,1323.7C2010.9,1328.3 2012.7,1331.5 2014.4,1334.3C2016.5,1337.8 2018.7,1339.3 2020.8,1342.7C2022.6,1345.6 2024.3,1348.5 2026.1,1353.2C2027.5,1356.9 2028.9,1362.7 2030.3,1368.0C2031.7,1373.3 2033.1,1379.3 2034.5,1384.9C2035.9,1390.5 2037.3,1396.8 2038.7,1401.8C2040.5,1408.1 2042.2,1414.0 2044.0,1418.7C2046.1,1424.2 2048.2,1428.1 2050.3,1432.4C2052.4,1436.8 2054.6,1440.9 2056.7,1445.0C2058.4,1448.3 2060.2,1451.3 2061.9,1454.5C2063.6,1457.6 2065.3,1460.7 2067.0,1463.8" fill="none" stroke="#000000" stroke-width="7.2" stroke-linejoin="round" stroke-linecap="butt" clip-path="url(#cR)"/>
<path d="M232.0,1774.1C247.7,1774.2 263.4,1774.2 279.1,1774.5C289.9,1774.7 300.8,1775.2 311.6,1775.4C322.4,1775.6 333.2,1776.0 344.0,1775.8C354.8,1775.6 365.7,1774.7 376.5,1774.1C383.7,1773.7 391.0,1773.3 398.2,1772.6C404.0,1772.1 409.7,1772.1 415.5,1770.4C418.4,1769.6 421.2,1766.8 424.1,1765.0C427.0,1763.2 429.9,1761.2 432.8,1759.6C435.7,1758.0 438.6,1756.7 441.5,1755.3C444.4,1753.9 447.2,1752.4 450.1,1751.0C453.0,1749.5 455.9,1749.1 458.8,1746.6C461.0,1744.7 463.1,1741.4 465.3,1738.0C467.5,1734.6 469.6,1730.3 471.8,1726.1C473.9,1722.0 476.1,1716.9 478.2,1713.1C480.4,1709.3 482.5,1706.7 484.7,1703.3C486.9,1699.9 489.0,1695.7 491.2,1692.5C493.4,1689.3 495.5,1686.1 497.7,1683.9C499.9,1681.7 502.0,1680.7 504.2,1679.5C505.6,1678.7 507.1,1677.9 508.5,1678.0C510.7,1678.1 512.8,1679.0 515.0,1680.2C517.2,1681.4 519.3,1683.5 521.5,1684.9C523.7,1686.3 525.8,1688.1 528.0,1688.8C530.9,1689.7 533.8,1689.7 536.7,1689.7C539.6,1689.7 542.4,1689.6 545.3,1688.8C548.2,1688.0 551.1,1686.5 554.0,1684.9C556.9,1683.4 559.8,1681.5 562.7,1679.5C565.6,1677.5 568.4,1674.9 571.3,1673.0C574.9,1670.6 578.5,1668.7 582.1,1666.5C585.7,1664.3 589.4,1662.0 593.0,1660.0C596.6,1658.0 600.2,1656.2 603.8,1654.6C607.4,1653.0 611.0,1651.5 614.6,1650.3C617.5,1649.3 620.4,1648.4 623.3,1648.1C626.4,1647.8 629.4,1648.5 632.5,1648.7C636.1,1648.9 639.7,1648.7 643.3,1649.4C646.9,1650.1 650.5,1651.5 654.1,1653.0C657.7,1654.5 661.3,1656.4 664.9,1658.4C668.5,1660.4 672.2,1662.5 675.8,1664.9C679.4,1667.2 683.0,1669.8 686.6,1672.5C690.2,1675.2 693.8,1678.5 697.4,1681.2C701.0,1683.9 704.6,1686.5 708.2,1688.7C711.8,1690.9 715.4,1692.9 719.0,1694.2C722.6,1695.5 726.3,1696.1 729.9,1696.3C733.5,1696.5 737.1,1696.1 740.7,1695.2C744.3,1694.3 747.9,1692.7 751.5,1690.9C754.4,1689.5 757.3,1686.8 760.2,1685.5C762.4,1684.5 764.5,1683.6 766.7,1684.0C768.9,1684.4 771.0,1685.3 773.2,1687.7C775.0,1689.7 776.8,1694.0 778.6,1697.4C780.4,1700.8 782.2,1705.3 784.0,1708.2C786.2,1711.8 788.3,1714.7 790.5,1716.9C794.1,1720.5 797.7,1722.4 801.3,1725.5C804.9,1728.6 808.5,1732.4 812.1,1735.3C815.7,1738.2 819.3,1740.6 822.9,1742.9C826.5,1745.3 830.2,1747.4 833.8,1749.4C837.4,1751.4 841.0,1753.5 844.6,1754.8C848.2,1756.0 851.8,1756.6 855.4,1756.9C860.5,1757.3 865.5,1756.0 870.6,1756.9C873.5,1757.4 876.3,1759.7 879.2,1761.3C882.8,1763.3 886.4,1765.6 890.0,1767.7C893.6,1769.9 897.3,1771.8 900.9,1774.2C903.8,1776.1 906.6,1779.0 909.5,1780.7C912.4,1782.4 915.3,1783.8 918.2,1784.4C922.5,1785.3 926.9,1785.3 931.2,1785.1C934.8,1785.0 938.4,1784.6 942.0,1783.5C945.6,1782.4 949.2,1780.7 952.8,1778.6C956.4,1776.5 960.0,1772.9 963.6,1771.0C966.7,1769.3 969.9,1767.3 973.0,1767.9C974.3,1768.2 975.7,1771.2 977.0,1773.6C978.4,1776.1 979.7,1780.2 981.1,1782.5C982.5,1784.8 983.8,1786.6 985.2,1787.4C987.1,1788.4 988.9,1788.4 990.8,1787.9C993.0,1787.3 995.1,1785.1 997.3,1784.1C999.7,1783.0 1002.2,1781.7 1004.6,1781.7C1006.8,1781.7 1008.9,1782.6 1011.1,1784.1C1012.7,1785.3 1014.4,1787.6 1016.0,1789.8C1017.6,1792.0 1019.3,1795.3 1020.9,1797.1C1022.8,1799.1 1024.7,1800.2 1026.6,1801.2C1028.8,1802.4 1030.9,1803.3 1033.1,1803.6C1035.2,1803.9 1037.4,1803.3 1039.5,1802.8C1041.4,1802.4 1043.3,1800.8 1045.2,1800.8C1047.6,1800.8 1050.1,1802.0 1052.5,1802.8C1055.2,1803.7 1057.9,1805.0 1060.6,1806.0C1063.9,1807.2 1067.1,1808.4 1070.4,1809.3C1074.2,1810.3 1078.0,1810.9 1081.8,1811.7C1086.1,1812.6 1090.4,1813.5 1094.7,1814.2C1098.5,1814.8 1102.3,1815.3 1106.1,1815.8C1110.4,1816.3 1114.8,1816.8 1119.1,1817.1C1124.0,1817.4 1128.8,1817.3 1133.7,1817.4C1136.4,1817.5 1139.0,1817.5 1141.7,1817.6" fill="none" stroke="#ff0000" stroke-width="7.1" stroke-linejoin="round" stroke-linecap="butt" clip-path="url(#cL)"/>
<path d="M1156.3,1808.5C1159.0,1807.1 1161.6,1805.6 1164.3,1804.2C1167.5,1802.5 1170.7,1801.0 1173.9,1799.0C1177.3,1796.9 1180.8,1794.8 1184.2,1792.0C1187.1,1789.6 1190.0,1786.9 1192.9,1783.4C1195.8,1780.0 1198.7,1775.9 1201.6,1771.3C1204.5,1766.7 1207.3,1761.2 1210.2,1755.7C1212.5,1751.3 1214.8,1747.4 1217.1,1741.8C1218.8,1737.6 1220.6,1733.1 1222.3,1726.2C1223.5,1721.6 1224.6,1712.8 1225.8,1707.2C1226.7,1703.0 1227.5,1699.3 1228.4,1696.8C1229.1,1694.7 1229.9,1692.8 1230.6,1693.3C1231.6,1694.0 1232.6,1696.3 1233.6,1700.3C1234.5,1703.8 1235.3,1710.6 1236.2,1715.8C1237.1,1721.0 1237.9,1726.5 1238.8,1731.4C1239.7,1736.3 1240.5,1742.3 1241.4,1745.3C1242.3,1748.3 1243.1,1749.6 1244.0,1749.6C1244.9,1749.6 1245.7,1748.3 1246.6,1745.3C1247.5,1742.3 1248.3,1736.9 1249.2,1731.4C1250.1,1725.9 1250.9,1717.3 1251.8,1712.4C1252.7,1707.5 1253.5,1704.0 1254.4,1702.0C1255.5,1699.4 1256.7,1701.1 1257.8,1698.5C1258.7,1696.5 1259.5,1692.7 1260.4,1688.1C1261.3,1683.5 1262.1,1675.1 1263.0,1670.8C1264.0,1665.9 1265.0,1660.4 1266.0,1660.4C1267.0,1660.4 1268.1,1665.1 1269.1,1670.8C1270.0,1675.5 1270.8,1684.1 1271.7,1691.6C1272.6,1699.1 1273.4,1708.6 1274.3,1715.8C1275.2,1723.0 1276.0,1729.6 1276.9,1734.9C1278.0,1741.8 1279.2,1747.4 1280.3,1752.2C1281.8,1758.4 1283.2,1763.8 1284.7,1767.8C1286.4,1772.5 1288.2,1775.4 1289.9,1778.2C1291.9,1781.5 1293.9,1784.3 1295.9,1786.0C1297.9,1787.7 1300.0,1789.0 1302.0,1788.6C1303.4,1788.4 1304.9,1786.8 1306.3,1784.2C1307.5,1782.1 1308.6,1776.1 1309.8,1774.7C1311.8,1772.3 1313.8,1773.8 1315.8,1773.0C1317.3,1772.4 1318.7,1771.7 1320.2,1770.4C1321.6,1769.1 1323.1,1766.0 1324.5,1765.2C1326.8,1763.9 1329.1,1765.1 1331.4,1764.3C1333.1,1763.7 1334.9,1764.3 1336.6,1760.9C1337.8,1758.6 1338.9,1750.3 1340.1,1747.0C1341.0,1744.5 1341.8,1743.0 1342.7,1743.5C1343.8,1744.2 1345.0,1746.6 1346.1,1750.5C1347.0,1753.5 1347.8,1762.7 1348.7,1764.3C1351.0,1768.5 1353.4,1766.6 1355.7,1767.8C1357.4,1768.7 1359.2,1768.7 1360.9,1770.4C1362.3,1771.8 1363.8,1776.8 1365.2,1777.3C1366.1,1777.6 1366.9,1776.9 1367.8,1773.0C1368.7,1769.1 1369.5,1758.1 1370.4,1753.9C1371.3,1749.7 1372.1,1747.9 1373.0,1747.9C1373.9,1747.9 1374.7,1750.6 1375.6,1753.9C1376.5,1757.2 1377.3,1765.9 1378.2,1767.8C1379.9,1771.7 1381.7,1771.0 1383.4,1771.3C1384.5,1771.5 1385.7,1772.1 1386.8,1769.5C1387.7,1767.5 1388.5,1761.4 1389.4,1757.4C1390.3,1753.4 1391.1,1747.6 1392.0,1745.3C1392.9,1743.0 1393.7,1742.4 1394.6,1743.5C1395.5,1744.7 1396.3,1747.9 1397.2,1752.2C1398.1,1756.5 1398.9,1766.0 1399.8,1769.5C1401.0,1774.1 1402.1,1776.0 1403.3,1776.5C1404.7,1777.1 1406.2,1775.0 1407.6,1773.0C1409.3,1770.6 1411.1,1764.8 1412.8,1763.5C1414.8,1761.9 1416.9,1765.4 1418.9,1764.3C1420.6,1763.4 1422.4,1758.1 1424.1,1757.4C1427.0,1756.3 1429.8,1760.0 1432.7,1759.1C1435.3,1758.3 1437.9,1755.0 1440.5,1752.2C1442.8,1749.8 1445.1,1747.2 1447.4,1743.5C1449.4,1740.2 1451.5,1736.4 1453.5,1731.4C1455.2,1727.2 1457.0,1721.8 1458.7,1715.8C1460.1,1710.8 1461.6,1701.6 1463.0,1698.5C1464.7,1694.7 1466.5,1696.2 1468.2,1695.1C1469.9,1693.9 1471.7,1695.7 1473.4,1691.6C1474.8,1688.2 1476.3,1679.0 1477.7,1672.6C1478.4,1669.5 1479.1,1666.8 1479.8,1662.9C1481.1,1655.6 1482.5,1646.3 1483.8,1639.0C1485.1,1631.7 1486.5,1624.5 1487.8,1619.1C1489.1,1613.9 1490.4,1609.8 1491.7,1607.2C1493.7,1603.2 1495.7,1601.5 1497.7,1599.2C1500.4,1596.2 1503.0,1593.2 1505.7,1591.2C1508.7,1588.9 1511.6,1590.3 1514.6,1586.3C1515.6,1585.0 1516.6,1580.4 1517.6,1575.3C1518.6,1570.2 1519.6,1562.4 1520.6,1555.4C1521.6,1548.4 1522.6,1540.8 1523.6,1533.5C1524.6,1526.2 1525.6,1519.2 1526.6,1511.6C1527.6,1504.0 1528.6,1495.2 1529.6,1487.8C1530.6,1480.6 1531.5,1472.5 1532.5,1467.9C1533.4,1463.8 1534.2,1461.9 1535.1,1461.9C1536.2,1461.9 1537.4,1464.9 1538.5,1467.9C1539.8,1471.5 1541.2,1476.8 1542.5,1481.8C1543.8,1486.8 1545.2,1492.0 1546.5,1497.7C1547.8,1503.3 1549.1,1510.0 1550.4,1515.6C1551.7,1521.3 1553.1,1525.5 1554.4,1531.5C1555.7,1537.5 1557.1,1543.1 1558.4,1551.4C1559.4,1557.7 1560.4,1566.7 1561.4,1575.3C1562.4,1583.9 1563.4,1593.2 1564.4,1603.2C1565.4,1613.2 1566.4,1624.9 1567.4,1635.0C1568.4,1644.8 1569.3,1654.4 1570.3,1662.9C1571.3,1671.7 1572.3,1680.0 1573.3,1686.8C1574.6,1695.9 1576.0,1703.6 1577.3,1710.6C1578.6,1717.6 1580.0,1723.4 1581.3,1728.6C1582.6,1733.8 1584.0,1740.3 1585.3,1741.5C1586.9,1742.9 1588.6,1739.2 1590.2,1736.5C1591.2,1734.9 1592.2,1730.1 1593.2,1728.6C1594.2,1727.1 1595.2,1726.6 1596.2,1727.6C1597.2,1728.6 1598.2,1731.2 1599.2,1734.5C1600.5,1738.8 1601.9,1745.4 1603.2,1750.4C1604.5,1755.4 1605.9,1761.5 1607.2,1764.4C1609.2,1768.8 1611.1,1769.5 1613.1,1772.3C1615.1,1775.1 1617.1,1778.9 1619.1,1781.3C1620.4,1782.9 1621.8,1784.8 1623.1,1784.3C1624.4,1783.8 1625.8,1781.8 1627.1,1778.3C1628.1,1775.8 1629.0,1769.3 1630.0,1766.4C1631.0,1763.4 1632.0,1760.7 1633.0,1760.4C1634.0,1760.1 1635.0,1761.4 1636.0,1764.4C1637.0,1767.4 1638.0,1774.6 1639.0,1778.3C1640.3,1783.2 1641.7,1787.6 1643.0,1790.2C1644.0,1792.2 1645.0,1794.2 1646.0,1792.2C1647.0,1790.2 1648.0,1784.8 1649.0,1778.3C1649.6,1774.2 1650.3,1761.0 1650.9,1760.4C1651.7,1759.7 1652.5,1769.5 1653.3,1774.3C1654.2,1779.5 1655.0,1787.6 1655.9,1790.2C1657.2,1794.2 1658.6,1794.3 1659.9,1794.2C1661.6,1794.0 1663.2,1789.3 1664.9,1789.3C1666.2,1789.3 1667.6,1793.0 1668.9,1794.2C1670.5,1795.6 1672.2,1797.2 1673.8,1797.2C1675.8,1797.2 1677.8,1795.9 1679.8,1794.2C1682.1,1792.2 1684.5,1788.2 1686.8,1786.3C1689.4,1784.2 1692.1,1783.7 1694.7,1782.3C1696.5,1781.3 1698.2,1780.9 1700.0,1779.1C1701.7,1777.3 1703.4,1773.2 1705.1,1771.5C1706.8,1769.8 1708.4,1769.5 1710.1,1769.0C1712.4,1768.3 1714.6,1769.2 1716.9,1768.1C1718.6,1767.2 1720.3,1764.8 1722.0,1763.0C1723.7,1761.2 1725.4,1759.0 1727.1,1757.1C1728.8,1755.3 1730.4,1754.7 1732.1,1752.0C1733.2,1750.2 1734.4,1747.4 1735.5,1743.6C1736.4,1740.7 1737.2,1736.0 1738.1,1731.7C1738.9,1727.5 1739.8,1720.9 1740.6,1718.2C1741.6,1715.0 1742.6,1714.0 1743.6,1714.0C1744.9,1714.0 1746.1,1717.4 1747.4,1718.2C1749.1,1719.3 1750.7,1720.5 1752.4,1719.9C1754.1,1719.3 1755.8,1716.6 1757.5,1714.8C1759.5,1712.7 1761.4,1710.9 1763.4,1708.1C1765.4,1705.3 1767.4,1701.9 1769.4,1697.9C1771.1,1694.6 1772.7,1690.8 1774.4,1686.1C1776.1,1681.3 1777.8,1674.0 1779.5,1669.2C1781.2,1664.4 1782.9,1661.9 1784.6,1657.3C1786.0,1653.5 1787.4,1648.8 1788.8,1643.8C1789.9,1639.8 1791.1,1635.7 1792.2,1630.2C1793.0,1626.1 1793.9,1619.4 1794.7,1615.0C1795.6,1610.4 1796.4,1605.8 1797.3,1603.2C1798.1,1600.7 1799.0,1599.0 1799.8,1599.8C1800.6,1600.6 1801.5,1603.9 1802.3,1608.3C1803.2,1612.9 1804.0,1620.0 1804.9,1626.9C1805.7,1633.5 1806.6,1642.4 1807.4,1648.9C1808.2,1655.4 1809.1,1662.8 1809.9,1665.8C1810.8,1669.0 1811.6,1668.1 1812.5,1667.5C1813.3,1666.9 1814.2,1666.3 1815.0,1662.4C1815.9,1658.4 1816.7,1651.3 1817.6,1643.8C1818.4,1636.6 1819.3,1628.1 1820.1,1618.4C1820.8,1610.6 1821.4,1599.9 1822.1,1591.3C1822.8,1581.9 1823.6,1572.9 1824.3,1564.3C1824.9,1557.7 1825.4,1549.9 1826.0,1545.7C1826.6,1541.5 1827.1,1538.4 1827.7,1538.9C1828.5,1539.6 1829.4,1544.4 1830.2,1549.1C1831.1,1554.0 1831.9,1562.3 1832.8,1567.7C1833.9,1574.7 1835.1,1580.7 1836.2,1586.3C1837.3,1591.9 1838.5,1596.4 1839.6,1601.5C1840.7,1606.5 1841.8,1612.1 1842.9,1616.7C1844.3,1622.8 1845.8,1626.8 1847.2,1633.6C1848.0,1637.5 1848.9,1643.8 1849.7,1648.9C1850.5,1654.0 1851.4,1659.8 1852.2,1664.1C1853.3,1669.9 1854.5,1674.5 1855.6,1679.3C1856.7,1684.1 1857.9,1689.2 1859.0,1692.8C1859.8,1695.4 1860.7,1696.2 1861.5,1697.9" fill="none" stroke="#ff0000" stroke-width="7.1" stroke-linejoin="round" stroke-linecap="butt" clip-path="url(#cR)"/>
</g>
<g id="frame">
<path d="M1132.5,67.8 H234.7 V1949.9 M2065.2,1949.9 V67.8 H1168.5" fill="none" stroke="#000" stroke-width="8.0" stroke-linejoin="miter" stroke-linecap="butt"/>
<path d="M234.7,1946.4 H1131.5 M1168.5,1946.4 H2065.2" fill="none" stroke="#000" stroke-width="7"/>
<line x1="234.7" y1="1946.4" x2="234.7" y2="1985" stroke="#000" stroke-width="8"/>
<line x1="594.7" y1="1946.4" x2="594.7" y2="1985" stroke="#000" stroke-width="7"/>
<line x1="954.7" y1="1946.4" x2="954.7" y2="1985" stroke="#000" stroke-width="7"/>
<line x1="1293" y1="1946.4" x2="1293" y2="1985" stroke="#000" stroke-width="7"/>
<line x1="1550.4" y1="1946.4" x2="1550.4" y2="1985" stroke="#000" stroke-width="7"/>
<line x1="1807.8" y1="1946.4" x2="1807.8" y2="1985" stroke="#000" stroke-width="7"/>
<line x1="2065.2" y1="1946.4" x2="2065.2" y2="1985" stroke="#000" stroke-width="8"/>
<line x1="414.7" y1="1946.4" x2="414.7" y2="1968.5" stroke="#000" stroke-width="7"/>
<line x1="774.7" y1="1946.4" x2="774.7" y2="1968.5" stroke="#000" stroke-width="7"/>
<line x1="1166.8" y1="1946.4" x2="1166.8" y2="1968.5" stroke="#000" stroke-width="7"/>
<line x1="1421.7" y1="1946.4" x2="1421.7" y2="1968.5" stroke="#000" stroke-width="7"/>
<line x1="1679.1" y1="1946.4" x2="1679.1" y2="1968.5" stroke="#000" stroke-width="7"/>
<line x1="1936.5" y1="1946.4" x2="1936.5" y2="1968.5" stroke="#000" stroke-width="7"/>
<polygon points="1115.3999999999999,107.1 1123.2,107.1 1153.5,28.4 1145.6999999999998,28.4" fill="#000"/>
<polygon points="1147.3,107.1 1155.1000000000001,107.1 1184.6000000000001,28.4 1176.8,28.4" fill="#000"/>
<polygon points="1115.3999999999999,1985.5 1123.2,1985.5 1153.5,1906.5 1145.6999999999998,1906.5" fill="#000"/>
<polygon points="1147.3,1985.5 1155.1000000000001,1985.5 1184.9,1906.5 1177.1,1906.5" fill="#000"/>
</g>
<g id="ticklabels">
<text x="234.7" y="2074.6" text-anchor="middle" font-size="86.5">4000</text>
<text x="594.7" y="2074.6" text-anchor="middle" font-size="86.5">3500</text>
<text x="954.7" y="2074.6" text-anchor="middle" font-size="86.5">3000</text>
<text x="1293" y="2074.6" text-anchor="middle" font-size="86.5">1500</text>
<text x="1550.4" y="2074.6" text-anchor="middle" font-size="86.5">1000</text>
<text x="1807.8" y="2074.6" text-anchor="middle" font-size="86.5">500</text>
<text x="2065.2" y="2074.6" text-anchor="middle" font-size="86.5">0</text>
</g>
<g id="peaklabels">
<text transform="translate(833.9,362.8) rotate(-90) scale(0.9020,1)" font-size="73.0" stroke="#fff" stroke-width="1.1">3199</text>
<text transform="translate(918.8,291.0) rotate(-90) scale(0.9020,1)" font-size="73.0" stroke="#fff" stroke-width="1.1">3028</text>
<text transform="translate(1021.3,516.2) rotate(-90) scale(0.9020,1)" font-size="73.0" stroke="#fff" stroke-width="1.1">2958</text>
<text transform="translate(1327.0,283.7) rotate(-90) scale(0.9020,1)" font-size="73.0" stroke="#fff" stroke-width="1.1">1403</text>
<text transform="translate(897.8,803.9) rotate(-90) scale(0.9020,1)" font-size="73.0" stroke="#fff" stroke-width="1.1">3102</text>
<text transform="translate(1042.5,759.8) rotate(-90) scale(0.9020,1)" font-size="73.0" stroke="#fff" stroke-width="1.1">2990</text>
<text transform="translate(1297.0,740.6) rotate(-90) scale(0.9020,1)" font-size="73.0" stroke="#fff" stroke-width="1.1">1450</text>
<text transform="translate(1445.1,855.4) rotate(-90) scale(0.9020,1)" font-size="73.0" stroke="#fff" stroke-width="1.1">1270</text>
<text transform="translate(841.5,1320.6) rotate(-90) scale(0.9020,1)" font-size="73.0" stroke="#fff" stroke-width="1.1">3199</text>
<text transform="translate(960.6,1209.9) rotate(-90) scale(0.9020,1)" font-size="73.0" stroke="#fff" stroke-width="1.1">3028</text>
<text transform="translate(1356.0,1214.1) rotate(-90) scale(0.9020,1)" font-size="73.0" stroke="#fff" stroke-width="1.1">1450</text>
<text transform="translate(1430.6,1322.9) rotate(-90) scale(0.9020,1)" font-size="73.0" stroke="#fff" stroke-width="1.1">1270</text>
<text transform="translate(987.5,1714.2) rotate(-90) scale(0.9020,1)" font-size="73.0" stroke="#fff" stroke-width="1.1">2972</text>
<text transform="translate(1051.0,1714.2) rotate(-90) scale(0.9020,1)" font-size="73.0" stroke="#fff" stroke-width="1.1">2840</text>
<text transform="translate(1362.5,1713.6) rotate(-90) scale(0.9020,1)" font-size="73.0" stroke="#fff" stroke-width="1.1">1430</text>
<text transform="translate(1431.2,1708.4) rotate(-90) scale(0.9020,1)" font-size="73.0" stroke="#fff" stroke-width="1.1">1260</text>
</g>
<text id="xt" x="726" y="2249.4" font-size="99.5" letter-spacing="-1.23">Wavenumber (cm<tspan font-size="57" letter-spacing="0" x="1485.5 1510" y="2203.6" stroke="#fff" stroke-width="0.8">−1</tspan><tspan x="1542.5" y="2249.4">)</tspan></text>
<text id="yt" transform="translate(96.3,1073.6) rotate(-90)" text-anchor="middle" font-size="101" letter-spacing="-1.55">Intensity (a.u.)</text>
</svg>
</body></html>
